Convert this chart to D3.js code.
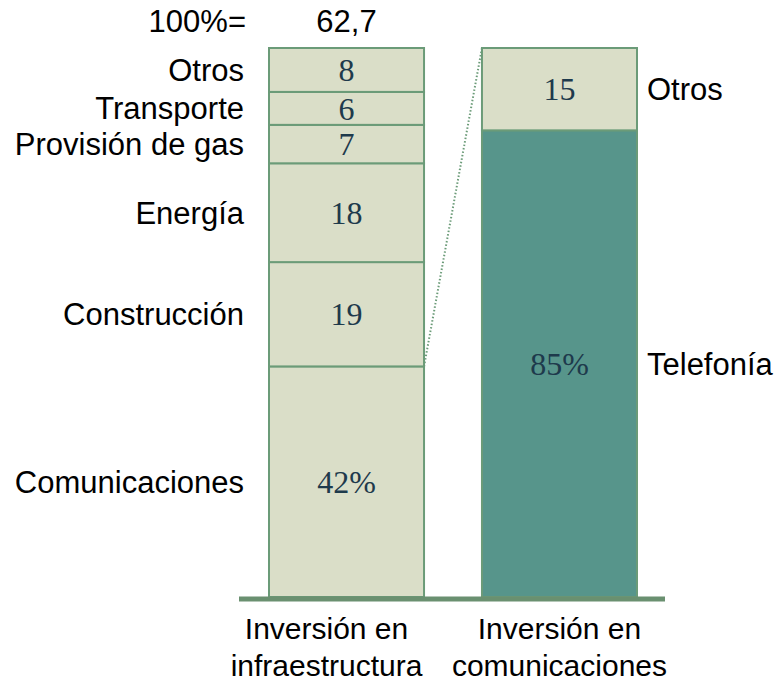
<!DOCTYPE html>
<html>
<head>
<meta charset="utf-8">
<script src="https://cdn.jsdelivr.net/npm/d3@7"></script>
<style>
body{margin:0;background:#fff}
svg text{font-family:"Liberation Sans",Arial,sans-serif}
</style>
</head>
<body>
<div id="chart"></div>
<script>
(function(){

var bars = ["infra","comu"]
var barLabels = [["Inversión en","infraestructura"],["Inversión en","comunicaciones"]]

var infraCats = ["Comunicaciones","Construcción","Energía","Provisión de gas","Transporte","Otros"]
var infraVals = [42,19,18,7,6,8]
var infraText = ["42%","19","18","7","6","8"]

var comuCats = ["Telefonía","Otros"]
var comuVals = [85,15]
var comuText = ["85%","15"]

var totalLabel = "100%="
var totalValue = "62,7"

var lightFill = "#dadec8", darkFill = "#57958b", edge = "#6b9b78", numColor = "#1e3a4c"

var W = 779, H = 684
var svg = d3.select("#chart").append("svg").attr("width",W).attr("height",H)

var x = d3.scaleBand().domain(bars).range([269,637]).paddingInner(0.272).paddingOuter(0)
var y = d3.scaleLinear().domain([0,100]).range([597,48])

function stack(vals,cats,text){
	var acc = 0
	return vals.map(function(v,i){
		var d = {cat:cats[i],v:v,t:text[i],y0:acc,y1:acc+v}
		acc += v
		return d
	})
}

var infra = stack(infraVals,infraCats,infraText)
var comu = stack(comuVals,comuCats,comuText)

function drawBar(data,key,fillFn){
	var g = svg.append("g").attr("transform","translate("+x(key)+",0)")
	g.selectAll("rect").data(data).enter().append("rect")
		.attr("x",0)
		.attr("y",function(d){return y(d.y1)})
		.attr("width",x.bandwidth())
		.attr("height",function(d){return y(d.y0)-y(d.y1)})
		.style("fill",fillFn)
		.style("stroke",edge)
		.style("stroke-width",2)
	g.selectAll(".num").data(data).enter().append("text")
		.attr("class","num")
		.attr("x",x.bandwidth()/2)
		.attr("y",function(d){return (y(d.y0)+y(d.y1))/2})
		.attr("dy","0.35em")
		.style("text-anchor","middle")
		.style("font-family","'Liberation Serif','DejaVu Serif',serif")
		.style("font-size","32px")
		.style("fill",numColor)
		.text(function(d){return d.t})
}

drawBar(infra,"infra",function(){return lightFill})
drawBar(comu,"comu",function(d,i){return i==0 ? darkFill : lightFill})

// left labels
svg.selectAll(".llab").data(infra).enter().append("text")
	.attr("x",244)
	.attr("y",function(d){return (y(d.y0)+y(d.y1))/2})
	.attr("dy","0.35em")
	.style("text-anchor","end")
	.style("font-size","31px")
	.style("fill","#000")
	.text(function(d){return d.cat})

// right labels
svg.selectAll(".rlab").data(comu).enter().append("text")
	.attr("x",x("comu")+x.bandwidth()+10)
	.attr("y",function(d){return (y(d.y0)+y(d.y1))/2})
	.attr("dy","0.35em")
	.style("font-size","31px")
	.style("fill","#000")
	.text(function(d){return d.cat})

// connector
var commTop = infra[0].y1
svg.append("line")
	.attr("x1",x("infra")+x.bandwidth())
	.attr("y1",y(commTop))
	.attr("x2",x("comu"))
	.attr("y2",y(100))
	.style("stroke",edge)
	.style("stroke-width",2)
	.style("stroke-dasharray","1.5,2")

// baseline
svg.append("line")
	.attr("x1",239).attr("x2",665)
	.attr("y1",y(0)+2).attr("y2",y(0)+2)
	.style("stroke","#6a9070")
	.style("stroke-width",5)

// total
svg.append("text").attr("x",246).attr("y",32)
	.style("text-anchor","end").style("font-size","31px").text(totalLabel)
svg.append("text").attr("x",x("infra")+x.bandwidth()/2).attr("y",32)
	.style("text-anchor","middle").style("font-size","31px").text(totalValue)

// category labels
var shift = [-20,0]
bars.forEach(function(b,i){
	var cx = x(b)+x.bandwidth()/2+shift[i]
	var t = svg.append("text")
		.attr("x",cx)
		.attr("y",639)
		.style("text-anchor","middle")
		.style("font-size","30px")
	barLabels[i].forEach(function(s,j){
		t.append("tspan").attr("x",cx).attr("dy",j==0?0:37).text(s)
	})
})

})()
</script>
</body>
</html>
